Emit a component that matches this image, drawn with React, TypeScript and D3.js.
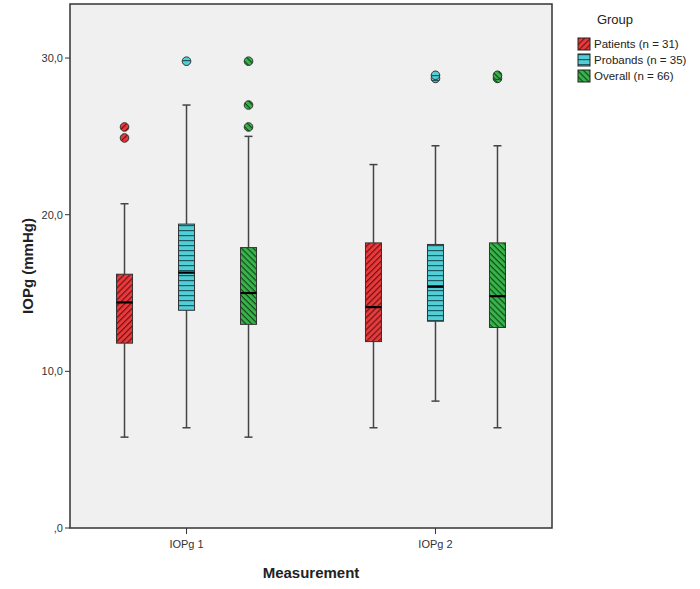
import * as d3 from "d3";

// measurements on the x axis
const measurements = ["IOPg 1", "IOPg 2"];
const groupKeys = ["patients", "probands", "overall"];
const groupLabels = ["Patients (n = 31)", "Probands (n = 35)", "Overall (n = 66)"];
const groupColors = ["#e83a3c", "#52cfd6", "#37b44a"];
const hatchColors = ["#6b1414", "#1c5a60", "#124a1a"];

// [lower whisker, q1, median, q3, upper whisker] per measurement
const patientsStats = [
  [5.8, 11.8, 14.4, 16.2, 20.7],
  [6.4, 11.9, 14.1, 18.2, 23.2],
];
const probandsStats = [
  [6.4, 13.9, 16.3, 19.4, 27.0],
  [8.1, 13.2, 15.4, 18.1, 24.4],
];
const overallStats = [
  [5.8, 13.0, 15.0, 17.9, 25.0],
  [6.4, 12.8, 14.8, 18.2, 24.4],
];

const patientsOutliers = [[24.9, 25.6], []];
const probandsOutliers = [[29.8], [28.7, 28.9]];
const overallOutliers = [[25.6, 27.0, 29.8], [28.7, 28.9]];

const yTicks = [0, 10, 20, 30];
const yTickLabels = [",0", "10,0", "20,0", "30,0"];

const statsByGroup = [patientsStats, probandsStats, overallStats];
const outliersByGroup = [patientsOutliers, probandsOutliers, overallOutliers];

const W = 700;
const H = 589;
const frame = { left: 70, right: 552, top: 4, bottom: 528 };
const font = "'Liberation Sans', Arial, sans-serif";

export default function App() {
  const y = d3.scaleLinear().domain([0, 33.45]).range([frame.bottom, frame.top]);
  const x = d3
    .scalePoint<string>()
    .domain(measurements)
    .range([frame.left, frame.right])
    .padding(0.468);
  const xg = d3.scalePoint<string>().domain(groupKeys).range([-62, 62]);
  const boxW = 16;
  const capW = 8;

  return (
    <svg
      width={W}
      height={H}
      style={{ position: "absolute", left: 0, top: 0, background: "#fff" }}
      fontFamily={font}
    >
      <defs>
        {groupKeys.map((k, i) => {
          const rot = k === "patients" ? -45 : k === "overall" ? 45 : 0;
          const size = k === "probands" ? 5 : 4.2;
          return (
            <pattern
              key={k}
              id={`hatch-${k}`}
              patternUnits="userSpaceOnUse"
              width={size}
              height={size}
              patternTransform={`rotate(${rot})`}
            >
              <rect width={size} height={size} fill={groupColors[i]} />
              <line x1={0} x2={size} y1={0.6} y2={0.6} stroke={hatchColors[i]} strokeWidth={1.2} />
            </pattern>
          );
        })}
      </defs>

      {/* plot frame */}
      <rect
        x={frame.left}
        y={frame.top}
        width={frame.right - frame.left}
        height={frame.bottom - frame.top}
        fill="#f0f0f0"
        stroke="#333"
        strokeWidth={1.5}
      />

      {/* y axis */}
      {yTicks.map((t, i) => (
        <g key={t} transform={`translate(0,${y(t)})`}>
          <line x1={frame.left - 5} x2={frame.left} stroke="#333" />
          <text x={frame.left - 7} dy="0.35em" textAnchor="end" fontSize={11} fill="#333">
            {yTickLabels[i]}
          </text>
        </g>
      ))}
      <text
        transform={`translate(33,${(frame.top + frame.bottom) / 2}) rotate(-90)`}
        textAnchor="middle"
        fontSize={15}
        fontWeight="bold"
        fill="#222"
      >
        IOPg (mmHg)
      </text>

      {/* x axis */}
      {measurements.map((m) => (
        <g key={m} transform={`translate(${x(m)},${frame.bottom})`}>
          <line y1={0} y2={6} stroke="#333" />
          <text y={20} textAnchor="middle" fontSize={11} fill="#333">
            {m}
          </text>
        </g>
      ))}
      <text
        x={(frame.left + frame.right) / 2}
        y={578}
        textAnchor="middle"
        fontSize={15}
        fontWeight="bold"
        fill="#222"
      >
        Measurement
      </text>

      {/* boxes */}
      {measurements.map((m, mi) =>
        groupKeys.map((k, gi) => {
          const [lo, q1, med, q3, hi] = statsByGroup[gi][mi];
          const cx = (x(m) as number) + (xg(k) as number);
          return (
            <g key={`${m}-${k}`}>
              <line x1={cx} x2={cx} y1={y(hi)} y2={y(q3)} stroke="#444" strokeWidth={1.5} />
              <line x1={cx} x2={cx} y1={y(q1)} y2={y(lo)} stroke="#444" strokeWidth={1.5} />
              <line x1={cx - capW / 2} x2={cx + capW / 2} y1={y(hi)} y2={y(hi)} stroke="#444" strokeWidth={1.5} />
              <line x1={cx - capW / 2} x2={cx + capW / 2} y1={y(lo)} y2={y(lo)} stroke="#444" strokeWidth={1.5} />
              <rect
                x={cx - boxW / 2}
                y={y(q3)}
                width={boxW}
                height={y(q1) - y(q3)}
                fill={`url(#hatch-${k})`}
                stroke="#333"
                strokeWidth={1}
              />
              <line
                x1={cx - boxW / 2}
                x2={cx + boxW / 2}
                y1={y(med)}
                y2={y(med)}
                stroke="#000"
                strokeWidth={2.2}
              />
              {outliersByGroup[gi][mi].map((o, oi) => (
                <circle
                  key={oi}
                  cx={cx}
                  cy={y(o)}
                  r={4.3}
                  fill={`url(#hatch-${k})`}
                  stroke="#333"
                  strokeWidth={1}
                />
              ))}
            </g>
          );
        })
      )}

      {/* legend */}
      <text x={615} y={24} textAnchor="middle" fontSize={13} fill="#222">
        Group
      </text>
      {groupKeys.map((k, i) => (
        <g key={k} transform={`translate(578,${38 + i * 16})`}>
          <rect width={12} height={12} fill={`url(#hatch-${k})`} stroke="#222" strokeWidth={1} />
          <text x={16} y={10} fontSize={11.5} fill="#222">
            {groupLabels[i]}
          </text>
        </g>
      ))}
    </svg>
  );
}
